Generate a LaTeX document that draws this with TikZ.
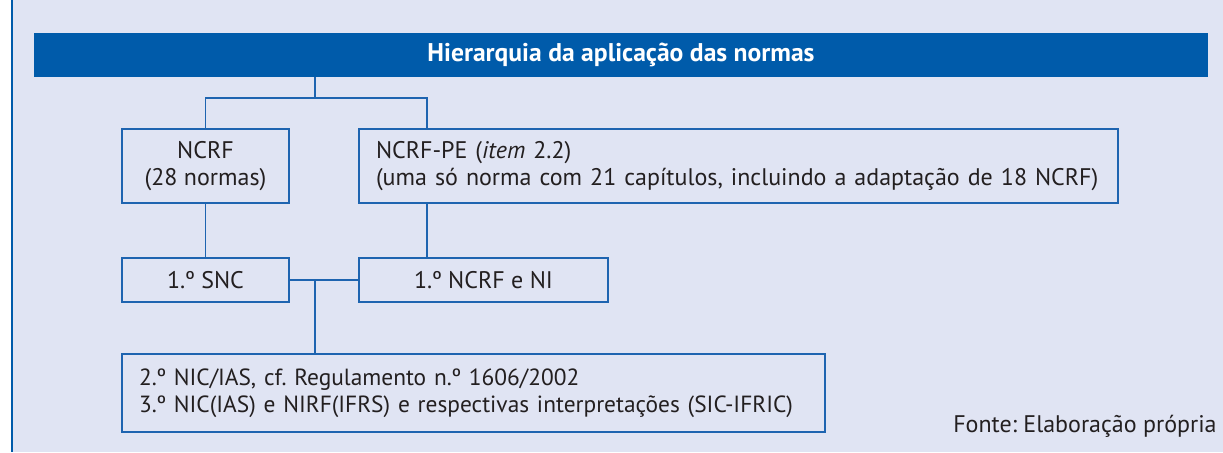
\documentclass[tikz,border=0pt]{standalone}
\usepackage{fontspec}
\setmainfont{PT Sans}
\frenchspacing
\definecolor{fundo}{RGB}{224,228,243}
\definecolor{azul}{RGB}{0,91,170}
\definecolor{linha}{RGB}{30,100,176}
\definecolor{texto}{RGB}{35,31,32}
\tikzset{
  caixa/.style={draw=linha, line width=0.65pt, text=texto, inner sep=0pt},
  liga/.style={draw=linha, line width=0.65pt}
}
\begin{document}
\begin{tikzpicture}[x=0.5pt,y=-0.5pt,font=\fontsize{12}{13.5}\selectfont]
\useasboundingbox (0,0) rectangle (1223,452);
\fill[fundo] (11,0) rectangle (1223,452);
\draw[azul, line width=1pt] (11.5,0) -- (11.5,452);
\draw (621,55) node[fill=azul, minimum width=587pt, minimum height=22pt, inner sep=0pt, text=white, font=\fontsize{12.8}{14}\selectfont\bfseries] (titulo) {Hierarquia da aplicação das normas};
\draw (205.5,166) node[caixa, minimum width=83.5pt, minimum height=37pt, align=center] (ncrf) {NCRF\\(28 normas)};
\draw (738.5,166) node[caixa, minimum height=37pt, text width=362.5pt, inner xsep=8.5pt, align=left] (pe) {NCRF-PE (\textit{item} 2.2)\\(uma só norma com 21 capítulos, incluindo a adaptação de 18 NCRF)};
\draw (205.5,280) node[caixa, minimum width=83.5pt, minimum height=22pt] (snc) {1.º SNC};
\draw (483.5,280) node[caixa, minimum width=124.5pt, minimum height=22pt] (ni) {1.º NCRF e NI};
\draw (473.5,393) node[caixa, minimum height=39pt, text width=334.5pt, inner xsep=8.5pt, align=left, font=\fontsize{11.7}{13.5}\selectfont] (nic) {2.º NIC/IAS, cf. Regulamento n.º 1606/2002\\3.º NIC(IAS) e NIRF(IFRS) e respectivas interpretações (SIC-IFRIC)};
\draw (1217,432) node[anchor=base east, text=texto, inner sep=0pt] (fonte) {Fonte: Elaboração própria};
\coordinate (ramo) at (315,98);
\coordinate (pex) at (427,0);
\draw[liga] (titulo.south -| ramo) -- (ramo);
\draw[liga] (ncrf.north) |- (ramo) -| (pe.north -| pex);
\draw[liga] (ncrf) -- (snc);
\draw[liga] (pe.south -| pex) -- (ni.north -| pex);
\draw[liga] (snc) -- (ni);
\draw[liga] (snc.east -| ramo) -- (nic.north -| ramo);
\end{tikzpicture}
\end{document}
